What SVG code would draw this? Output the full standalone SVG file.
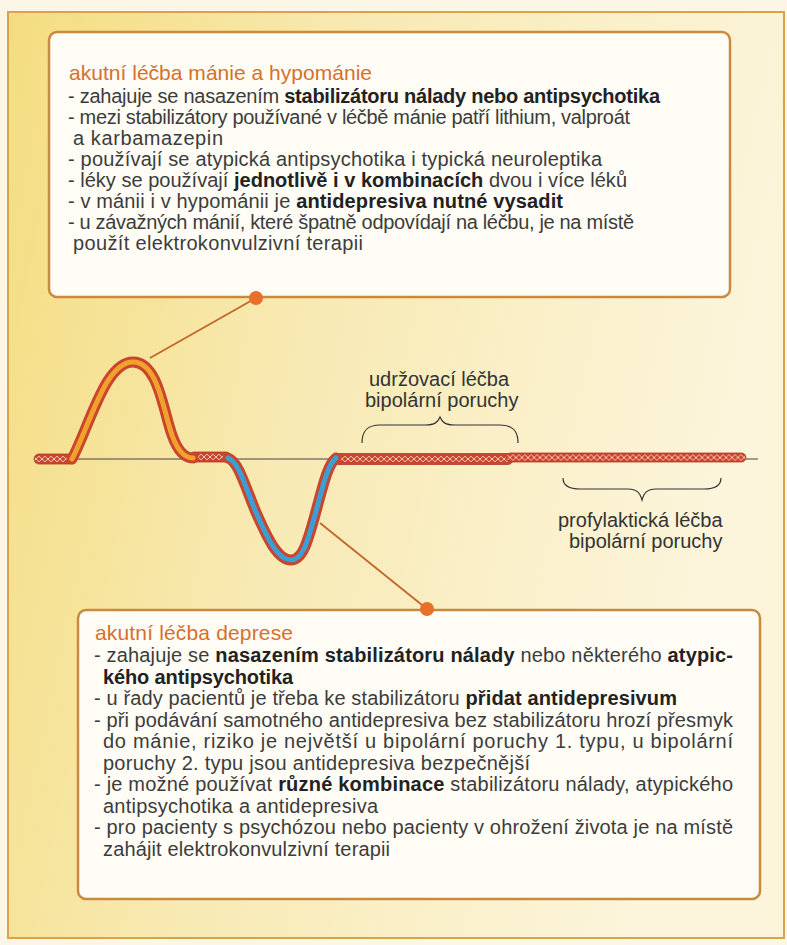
<svg xmlns="http://www.w3.org/2000/svg" width="787" height="945" viewBox="0 0 787 945">
<defs>
<linearGradient id="bg" x1="0" y1="0" x2="1" y2="0.25">
<stop offset="0" stop-color="#f4dd80"/>
<stop offset="0.45" stop-color="#f8eab4"/>
<stop offset="1" stop-color="#fcf5dc"/>
</linearGradient>
<pattern id="hatch" x="0" y="-5" width="6" height="10" patternUnits="userSpaceOnUse">
<rect x="0" y="0" width="6" height="10" fill="#c9452d"/>
<path d="M0 5 L3 2.2 L6 5 L3 7.8 Z" fill="none" stroke="#fbe8dc" stroke-width="0.8"/>
</pattern>
<style>
.box{fill:#fffdf5;stroke:#c98a3e;stroke-width:2.5}
.t{font-family:"Liberation Sans",Arial,sans-serif;font-size:20px;fill:#3c3c3c}
.h{font-family:"Liberation Sans",Arial,sans-serif;font-size:21px;fill:#d6702c}
.b{font-weight:bold;fill:#222}
.lab{font-family:"Liberation Sans",Arial,sans-serif;font-size:20px;fill:#333}
.brace{fill:none;stroke:#333;stroke-width:1.2}
.band{fill:url(#hatch);stroke:#b83a26;stroke-width:0.8}
.outer{fill:none;stroke:#c9452d;stroke-width:11;stroke-linecap:round;stroke-linejoin:round}
.conn{stroke:#c0682c;stroke-width:1.8;fill:none}
.dot{fill:#e8702a}
</style>
</defs>
<rect x="0" y="0" width="787" height="945" fill="#fbf6e6"/>
<rect x="8" y="12" width="776" height="926" fill="url(#bg)" stroke="#dba24a" stroke-width="2"/>

<g id="connectors">
<line class="conn" x1="256" y1="298" x2="150" y2="358"/>
<line class="conn" x1="320" y1="523" x2="427" y2="609"/>
</g>

<g id="mood-curve">
<line x1="73" y1="459" x2="758" y2="459" stroke="#444" stroke-width="1.2"/>
<g transform="translate(0,459)"><rect class="band" x="34" y="-5" width="42" height="10" rx="5"/></g>
<g transform="translate(0,457)"><rect class="band" x="189" y="-5" width="42" height="10" rx="5"/></g>
<g transform="translate(0,459)"><rect class="band" x="333" y="-5.5" width="180" height="11" rx="5"/></g>
<g transform="translate(0,457.5)"><rect class="band" x="506" y="-4.5" width="240" height="9" rx="4.5"/></g>
<path class="outer" d="M72 459 C90 425 105 362 133 362 C158 362 163 410 172 435 C178 452 185 458 193 458"/>
<path d="M72 459 C90 425 105 362 133 362 C158 362 163 410 172 435 C178 452 185 458 193 458" fill="none" stroke="#f2a22c" stroke-width="5" stroke-linecap="round"/>
<path class="outer" d="M228 458 C238 462 243 480 255 510 C268 540 278 560 291 560 C303 560 308 540 315 515 C322 490 327 465 336 458"/>
<path d="M228 458 C238 462 243 480 255 510 C268 540 278 560 291 560 C303 560 308 540 315 515 C322 490 327 465 336 458" fill="none" stroke="#3b9fd6" stroke-width="5" stroke-linecap="round"/>
</g>

<g id="box-mania">
<rect class="box" x="49" y="32" width="681" height="265" rx="8"/>
<text class="h" x="69" y="80" textLength="303" lengthAdjust="spacing">akutní léčba mánie a hypománie</text>
<text class="t" x="68" y="103" textLength="592" lengthAdjust="spacing">- zahajuje se nasazením <tspan class="b">stabilizátoru nálady nebo antipsychotika</tspan></text>
<text class="t" x="68" y="124" textLength="562" lengthAdjust="spacing">- mezi stabilizátory používané v léčbě mánie patří lithium, valproát</text>
<text class="t" x="73" y="145" textLength="150" lengthAdjust="spacing">a karbamazepin</text>
<text class="t" x="68" y="166" textLength="534" lengthAdjust="spacing">- používají se atypická antipsychotika i typická neuroleptika</text>
<text class="t" x="68" y="187" textLength="559" lengthAdjust="spacing">- léky se používají <tspan class="b">jednotlivě i v kombinacích</tspan> dvou i více léků</text>
<text class="t" x="68" y="208" textLength="495" lengthAdjust="spacing">- v mánii i v hypománii je <tspan class="b">antidepresiva nutné vysadit</tspan></text>
<text class="t" x="68" y="229" textLength="566" lengthAdjust="spacing">- u závažných mánií, které špatně odpovídají na léčbu, je na místě</text>
<text class="t" x="73" y="250" textLength="290" lengthAdjust="spacing">použít elektrokonvulzivní terapii</text>
</g>

<g id="label-udrzovaci">
<path class="brace" d="M362 443 C362 430 368 425 380 425 L425 425 C435 425 438 422 440 417 C442 422 445 425 455 425 L500 425 C512 425 518 430 518 443"/>
<text class="lab" x="369" y="386">udržovací léčba</text>
<text class="lab" x="365" y="407">bipolární poruchy</text>
</g>

<g id="label-profylakticka">
<path class="brace" d="M563 478 C563 485 568 489 580 489 L628 489 C637 489 640 493 642 500 C644 493 647 489 656 489 L704 489 C716 489 721 485 721 478"/>
<text class="lab" x="558" y="527">profylaktická léčba</text>
<text class="lab" x="569" y="548">bipolární poruchy</text>
</g>

<g id="box-deprese">
<rect class="box" x="78" y="610" width="682" height="289" rx="8"/>
<text class="h" x="95" y="640" textLength="198" lengthAdjust="spacing">akutní léčba deprese</text>
<text class="t" x="94" y="662" textLength="639" lengthAdjust="spacing">- zahajuje se <tspan class="b">nasazením stabilizátoru nálady</tspan> nebo některého <tspan class="b">atypic-</tspan></text>
<text class="t" x="103" y="683.5" textLength="190" lengthAdjust="spacing"><tspan class="b">kého antipsychotika</tspan></text>
<text class="t" x="94" y="705" textLength="583" lengthAdjust="spacing">- u řady pacientů je třeba ke stabilizátoru <tspan class="b">přidat antidepresivum</tspan></text>
<text class="t" x="94" y="726.5" textLength="639" lengthAdjust="spacing">- při podávání samotného antidepresiva bez stabilizátoru hrozí přesmyk</text>
<text class="t" x="103" y="748" textLength="630" lengthAdjust="spacing">do mánie, riziko je největší u bipolární poruchy 1. typu, u bipolární</text>
<text class="t" x="103" y="769.5" textLength="427" lengthAdjust="spacing">poruchy 2. typu jsou antidepresiva bezpečnější</text>
<text class="t" x="94" y="791" textLength="639" lengthAdjust="spacing">- je možné používat <tspan class="b">různé kombinace</tspan> stabilizátoru nálady, atypického</text>
<text class="t" x="103" y="812.5" textLength="275" lengthAdjust="spacing">antipsychotika a antidepresiva</text>
<text class="t" x="94" y="834" textLength="639" lengthAdjust="spacing">- pro pacienty s psychózou nebo pacienty v ohrožení života je na místě</text>
<text class="t" x="103" y="855.5" textLength="287" lengthAdjust="spacing">zahájit elektrokonvulzivní terapii</text>
</g>

<g id="dots">
<circle class="dot" cx="256" cy="298" r="7"/>
<circle class="dot" cx="427" cy="609" r="7"/>
</g>
</svg>
